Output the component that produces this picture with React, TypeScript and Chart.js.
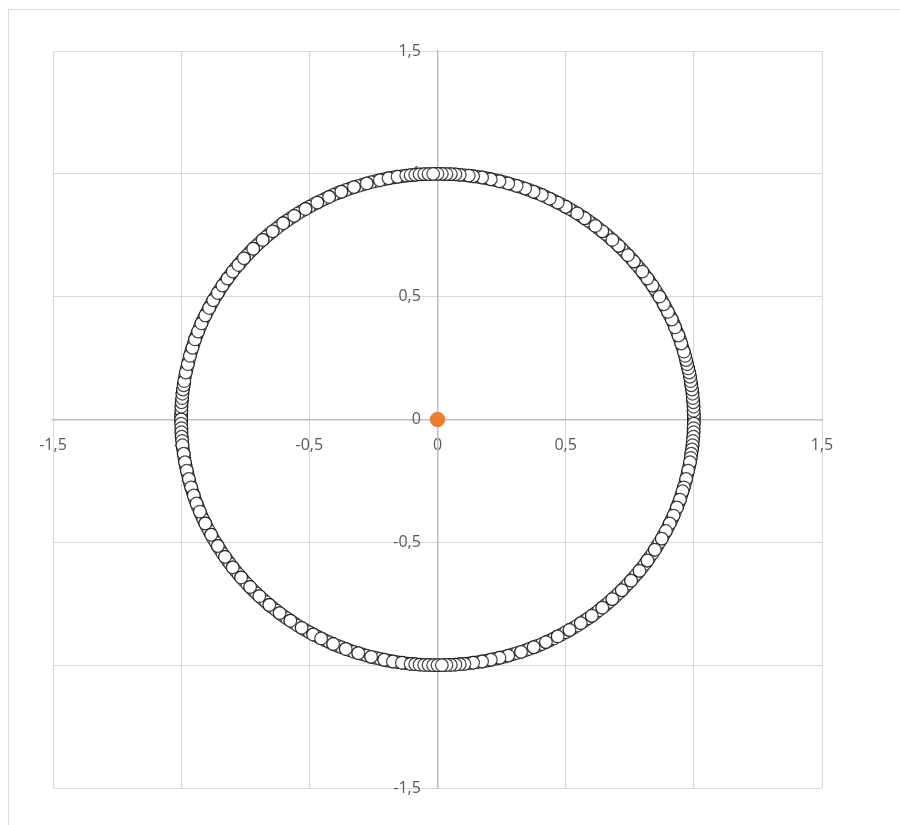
import React, { useEffect, useRef } from 'react';
import { Chart, registerables } from 'chart.js';

Chart.register(...registerables);

// Densely packed points along the ring (drawn first, underneath)
const ringDenseX = [
  1.000, 1.000, 0.999, 0.999, 0.998, 0.996, 0.995, 0.993, 0.990, 0.988,
  0.985, 0.982, 0.978, 0.974, 0.970, 0.966, 0.961, 0.956, 0.951, 0.946,
  0.940, 0.934, 0.927, 0.921, 0.914, 0.906, 0.899, 0.891, 0.883, 0.875,
  0.866, 0.857, 0.848, 0.839, 0.829, 0.819, 0.809, 0.799, 0.788, 0.777,
  0.766, 0.755, 0.743, 0.731, 0.719, 0.707, 0.695, 0.682, 0.669, 0.656,
  0.643, 0.629, 0.616, 0.602, 0.588, 0.574, 0.559, 0.545, 0.530, 0.515,
  0.500, 0.485, 0.469, 0.454, 0.438, 0.423, 0.407, 0.391, 0.375, 0.358,
  0.342, 0.326, 0.309, 0.292, 0.276, 0.259, 0.242, 0.225, 0.208, 0.191,
  0.174, 0.156, 0.139, 0.122, 0.105, 0.087, 0.070, 0.052, 0.035, 0.017,
  -0.000, -0.017, -0.035, -0.052, -0.070, -0.087, -0.105, -0.122, -0.139, -0.156,
  -0.174, -0.191, -0.208, -0.225, -0.242, -0.259, -0.276, -0.292, -0.309, -0.326,
  -0.342, -0.358, -0.375, -0.391, -0.407, -0.423, -0.438, -0.454, -0.469, -0.485,
  -0.500, -0.515, -0.530, -0.545, -0.559, -0.574, -0.588, -0.602, -0.616, -0.629,
  -0.643, -0.656, -0.669, -0.682, -0.695, -0.707, -0.719, -0.731, -0.743, -0.755,
  -0.766, -0.777, -0.788, -0.799, -0.809, -0.819, -0.829, -0.839, -0.848, -0.857,
  -0.866, -0.875, -0.883, -0.891, -0.899, -0.906, -0.914, -0.921, -0.927, -0.934,
  -0.940, -0.946, -0.951, -0.956, -0.961, -0.966, -0.970, -0.974, -0.978, -0.982,
  -0.985, -0.988, -0.990, -0.993, -0.995, -0.996, -0.998, -0.999, -0.999, -1.000,
  -1.000, -1.000, -0.999, -0.999, -0.998, -0.996, -0.995, -0.993, -0.990, -0.988,
  -0.985, -0.982, -0.978, -0.974, -0.970, -0.966, -0.961, -0.956, -0.951, -0.946,
  -0.940, -0.934, -0.927, -0.921, -0.914, -0.906, -0.899, -0.891, -0.883, -0.875,
  -0.866, -0.857, -0.848, -0.839, -0.829, -0.819, -0.809, -0.799, -0.788, -0.777,
  -0.766, -0.755, -0.743, -0.731, -0.719, -0.707, -0.695, -0.682, -0.669, -0.656,
  -0.643, -0.629, -0.616, -0.602, -0.588, -0.574, -0.559, -0.545, -0.530, -0.515,
  -0.500, -0.485, -0.469, -0.454, -0.438, -0.423, -0.407, -0.391, -0.375, -0.358,
  -0.342, -0.326, -0.309, -0.292, -0.276, -0.259, -0.242, -0.225, -0.208, -0.191,
  -0.174, -0.156, -0.139, -0.122, -0.105, -0.087, -0.070, -0.052, -0.035, -0.017,
  0.000, 0.017, 0.035, 0.052, 0.070, 0.087, 0.105, 0.122, 0.139, 0.156,
  0.174, 0.191, 0.208, 0.225, 0.242, 0.259, 0.276, 0.292, 0.309, 0.326,
  0.342, 0.358, 0.375, 0.391, 0.407, 0.423, 0.438, 0.454, 0.469, 0.485,
  0.500, 0.515, 0.530, 0.545, 0.559, 0.574, 0.588, 0.602, 0.616, 0.629,
  0.643, 0.656, 0.669, 0.682, 0.695, 0.707, 0.719, 0.731, 0.743, 0.755,
  0.766, 0.777, 0.788, 0.799, 0.809, 0.819, 0.829, 0.839, 0.848, 0.857,
  0.866, 0.875, 0.883, 0.891, 0.899, 0.906, 0.914, 0.921, 0.927, 0.934,
  0.940, 0.946, 0.951, 0.956, 0.961, 0.966, 0.970, 0.974, 0.978, 0.982,
  0.985, 0.988, 0.990, 0.993, 0.995, 0.996, 0.998, 0.999, 0.999, 1.000,
];

const ringDenseY = [
  0.000, 0.017, 0.035, 0.052, 0.070, 0.087, 0.105, 0.122, 0.139, 0.156,
  0.174, 0.191, 0.208, 0.225, 0.242, 0.259, 0.276, 0.292, 0.309, 0.326,
  0.342, 0.358, 0.375, 0.391, 0.407, 0.423, 0.438, 0.454, 0.469, 0.485,
  0.500, 0.515, 0.530, 0.545, 0.559, 0.574, 0.588, 0.602, 0.616, 0.629,
  0.643, 0.656, 0.669, 0.682, 0.695, 0.707, 0.719, 0.731, 0.743, 0.755,
  0.766, 0.777, 0.788, 0.799, 0.809, 0.819, 0.829, 0.839, 0.848, 0.857,
  0.866, 0.875, 0.883, 0.891, 0.899, 0.906, 0.914, 0.921, 0.927, 0.934,
  0.940, 0.946, 0.951, 0.956, 0.961, 0.966, 0.970, 0.974, 0.978, 0.982,
  0.985, 0.988, 0.990, 0.993, 0.995, 0.996, 0.998, 0.999, 0.999, 1.000,
  1.000, 1.000, 0.999, 0.999, 0.998, 0.996, 0.995, 0.993, 0.990, 0.988,
  0.985, 0.982, 0.978, 0.974, 0.970, 0.966, 0.961, 0.956, 0.951, 0.946,
  0.940, 0.934, 0.927, 0.921, 0.914, 0.906, 0.899, 0.891, 0.883, 0.875,
  0.866, 0.857, 0.848, 0.839, 0.829, 0.819, 0.809, 0.799, 0.788, 0.777,
  0.766, 0.755, 0.743, 0.731, 0.719, 0.707, 0.695, 0.682, 0.669, 0.656,
  0.643, 0.629, 0.616, 0.602, 0.588, 0.574, 0.559, 0.545, 0.530, 0.515,
  0.500, 0.485, 0.469, 0.454, 0.438, 0.423, 0.407, 0.391, 0.375, 0.358,
  0.342, 0.326, 0.309, 0.292, 0.276, 0.259, 0.242, 0.225, 0.208, 0.191,
  0.174, 0.156, 0.139, 0.122, 0.105, 0.087, 0.070, 0.052, 0.035, 0.017,
  -0.000, -0.017, -0.035, -0.052, -0.070, -0.087, -0.105, -0.122, -0.139, -0.156,
  -0.174, -0.191, -0.208, -0.225, -0.242, -0.259, -0.276, -0.292, -0.309, -0.326,
  -0.342, -0.358, -0.375, -0.391, -0.407, -0.423, -0.438, -0.454, -0.469, -0.485,
  -0.500, -0.515, -0.530, -0.545, -0.559, -0.574, -0.588, -0.602, -0.616, -0.629,
  -0.643, -0.656, -0.669, -0.682, -0.695, -0.707, -0.719, -0.731, -0.743, -0.755,
  -0.766, -0.777, -0.788, -0.799, -0.809, -0.819, -0.829, -0.839, -0.848, -0.857,
  -0.866, -0.875, -0.883, -0.891, -0.899, -0.906, -0.914, -0.921, -0.927, -0.934,
  -0.940, -0.946, -0.951, -0.956, -0.961, -0.966, -0.970, -0.974, -0.978, -0.982,
  -0.985, -0.988, -0.990, -0.993, -0.995, -0.996, -0.998, -0.999, -0.999, -1.000,
  -1.000, -1.000, -0.999, -0.999, -0.998, -0.996, -0.995, -0.993, -0.990, -0.988,
  -0.985, -0.982, -0.978, -0.974, -0.970, -0.966, -0.961, -0.956, -0.951, -0.946,
  -0.940, -0.934, -0.927, -0.921, -0.914, -0.906, -0.899, -0.891, -0.883, -0.875,
  -0.866, -0.857, -0.848, -0.839, -0.829, -0.819, -0.809, -0.799, -0.788, -0.777,
  -0.766, -0.755, -0.743, -0.731, -0.719, -0.707, -0.695, -0.682, -0.669, -0.656,
  -0.643, -0.629, -0.616, -0.602, -0.588, -0.574, -0.559, -0.545, -0.530, -0.515,
  -0.500, -0.485, -0.469, -0.454, -0.438, -0.423, -0.407, -0.391, -0.375, -0.358,
  -0.342, -0.326, -0.309, -0.292, -0.276, -0.259, -0.242, -0.225, -0.208, -0.191,
  -0.174, -0.156, -0.139, -0.122, -0.105, -0.087, -0.070, -0.052, -0.035, -0.017,
];

// Points that sit on top of the ring (visible white markers)
const ringTopX = [
  1.000, 1.000, 0.999, 0.999, 0.998, 0.996, 0.995, 0.993, 0.990, 0.988, 0.985, 0.982, 0.978, 0.974, 0.970, 0.966, 0.961, 0.951, 0.940, 0.927, 0.914, 0.899, 0.883, 0.866, 0.839, 0.819, 0.799, 0.766, 0.743, 0.707, 0.682, 0.643, 0.616, 0.574, 0.545, 0.500, 0.469, 0.438, 0.407, 0.375, 0.342, 0.309, 0.276, 0.242, 0.208, 0.174, 0.139, 0.122, 0.087, 0.070, 0.052, 0.035, 0.017, 0.000,
  -1.000, -0.999, -0.999, -0.998, -0.996, -0.995, -0.993, -0.990, -0.988, -0.982, -0.974, -0.966, -0.956, -0.946, -0.934, -0.921, -0.906, -0.891, -0.875, -0.857, -0.839, -0.819, -0.799, -0.777, -0.755, -0.719, -0.682, -0.643, -0.602, -0.559, -0.515, -0.469, -0.423, -0.375, -0.326, -0.276, -0.225, -0.191, -0.156, -0.122, -0.105, -0.087, -0.070, -0.052, -0.035, -0.017,
  -1.000, -1.000, -0.999, -0.999, -0.998, -0.996, -0.995, -0.990, -0.985, -0.978, -0.970, -0.961, -0.951, -0.940, -0.927, -0.906, -0.883, -0.857, -0.829, -0.799, -0.766, -0.731, -0.695, -0.656, -0.616, -0.574, -0.530, -0.485, -0.454, -0.407, -0.358, -0.309, -0.259, -0.208, -0.174, -0.139, -0.105, -0.087, -0.070, -0.052, -0.035, -0.017, 0.000,
  1.000, 0.999, 0.999, 0.998, 0.996, 0.995, 0.993, 0.990, 0.988, 0.985, 0.978, 0.970, 0.961, 0.956, 0.946, 0.934, 0.921, 0.906, 0.891, 0.875, 0.848, 0.819, 0.788, 0.755, 0.719, 0.682, 0.643, 0.602, 0.559, 0.515, 0.469, 0.423, 0.375, 0.326, 0.276, 0.242, 0.208, 0.174, 0.139, 0.105, 0.087, 0.070, 0.052, 0.035, 0.017,
];

const ringTopY = [
  0.000, 0.017, 0.035, 0.052, 0.070, 0.087, 0.105, 0.122, 0.139, 0.156, 0.174, 0.191, 0.208, 0.225, 0.242, 0.259, 0.276, 0.309, 0.342, 0.375, 0.407, 0.438, 0.469, 0.500, 0.545, 0.574, 0.602, 0.643, 0.669, 0.707, 0.731, 0.766, 0.788, 0.819, 0.839, 0.866, 0.883, 0.899, 0.914, 0.927, 0.940, 0.951, 0.961, 0.970, 0.978, 0.985, 0.990, 0.993, 0.996, 0.998, 0.999, 0.999, 1.000, 1.000,
  0.017, 0.035, 0.052, 0.070, 0.087, 0.105, 0.122, 0.139, 0.156, 0.191, 0.225, 0.259, 0.292, 0.326, 0.358, 0.391, 0.423, 0.454, 0.485, 0.515, 0.545, 0.574, 0.602, 0.629, 0.656, 0.695, 0.731, 0.766, 0.799, 0.829, 0.857, 0.883, 0.906, 0.927, 0.946, 0.961, 0.974, 0.982, 0.988, 0.993, 0.995, 0.996, 0.998, 0.999, 0.999, 1.000,
  0.000, -0.017, -0.035, -0.052, -0.070, -0.087, -0.105, -0.139, -0.174, -0.208, -0.242, -0.276, -0.309, -0.342, -0.375, -0.423, -0.469, -0.515, -0.559, -0.602, -0.643, -0.682, -0.719, -0.755, -0.788, -0.819, -0.848, -0.875, -0.891, -0.914, -0.934, -0.951, -0.966, -0.978, -0.985, -0.990, -0.995, -0.996, -0.998, -0.999, -0.999, -1.000, -1.000,
  -0.017, -0.035, -0.052, -0.070, -0.087, -0.105, -0.122, -0.139, -0.156, -0.174, -0.208, -0.242, -0.276, -0.292, -0.326, -0.358, -0.391, -0.423, -0.454, -0.485, -0.530, -0.574, -0.616, -0.656, -0.695, -0.731, -0.766, -0.799, -0.829, -0.857, -0.883, -0.906, -0.927, -0.946, -0.961, -0.970, -0.978, -0.985, -0.990, -0.995, -0.996, -0.998, -0.999, -0.999, -1.000,
];

// Single centre point
const centerX = [0];
const centerY = [0];

// Axis range and tick step
const axisMin = -1.5;
const axisMax = 1.5;
const axisStep = 0.5;

const fmt = (v: number | string) => String(v).replace('.', ',');

export default function App() {
  const ref = useRef<HTMLCanvasElement>(null);

  useEffect(() => {
    const ringX = [...ringDenseX, ...ringTopX];
    const ringY = [...ringDenseY, ...ringTopY];
    const ringPoints = ringX.map((x, i) => ({ x, y: ringY[i] }));
    const centerPoints = centerX.map((x, i) => ({ x, y: centerY[i] }));
    const tickFont = { family: 'Open Sans', size: 16 };

    const chart = new Chart(ref.current as HTMLCanvasElement, {
      type: 'scatter',
      data: {
        datasets: [
          {
            data: centerPoints,
            backgroundColor: '#ED7D31',
            borderColor: '#ED7D31',
            borderWidth: 1,
            pointRadius: 7.3,
            pointHoverRadius: 7.3,
          },
          {
            data: ringPoints,
            backgroundColor: '#ffffff',
            borderColor: 'rgba(0,0,0,0.72)',
            borderWidth: 1.25,
            pointRadius: 6.3,
            pointHoverRadius: 6.3,
          },
        ],
      },
      options: {
        responsive: false,
        animation: false,
        devicePixelRatio: 1,
        layout: { padding: { left: 53, right: 78, top: 51, bottom: 37 } },
        plugins: { legend: { display: false }, tooltip: { enabled: false } },
        scales: {
          x: {
            type: 'linear',
            min: axisMin,
            max: axisMax,
            position: { y: 0 },
            afterFit: (s: any) => { s.height = 0; },
            ticks: {
              stepSize: axisStep,
              callback: fmt,
              color: '#595959',
              font: tickFont,
              padding: 16,
              maxRotation: 0,
              autoSkip: false,
            },
            grid: { color: '#d9d9d9', lineWidth: 1, drawTicks: false },
            border: { color: '#bfbfbf', width: 1.5 },
          },
          y: {
            type: 'linear',
            min: axisMin,
            max: axisMax,
            position: { x: 0 },
            afterFit: (s: any) => { s.width = 0; },
            ticks: {
              stepSize: axisStep,
              callback: (v: number | string) => fmt(v) + '    ',
              color: '#595959',
              font: tickFont,
              padding: 17,
              autoSkip: false,
            },
            grid: { color: '#d9d9d9', lineWidth: 1, drawTicks: false },
            border: { color: '#bfbfbf', width: 1.5 },
          },
        },
      },
    });
    return () => chart.destroy();
  }, []);

  return (
    <>
      <div
        style={{
          position: 'fixed',
          left: 8,
          top: 9,
          width: 892,
          height: 816,
          borderLeft: '1px solid #d9d9d9',
          borderTop: '1px solid #d9d9d9',
          boxSizing: 'border-box',
        }}
      />
      <div style={{ position: 'fixed', left: 0, top: 0, width: 900, height: 825 }}>
        <canvas ref={ref} width={900} height={825} style={{ display: 'block' }} />
      </div>
    </>
  );
}
